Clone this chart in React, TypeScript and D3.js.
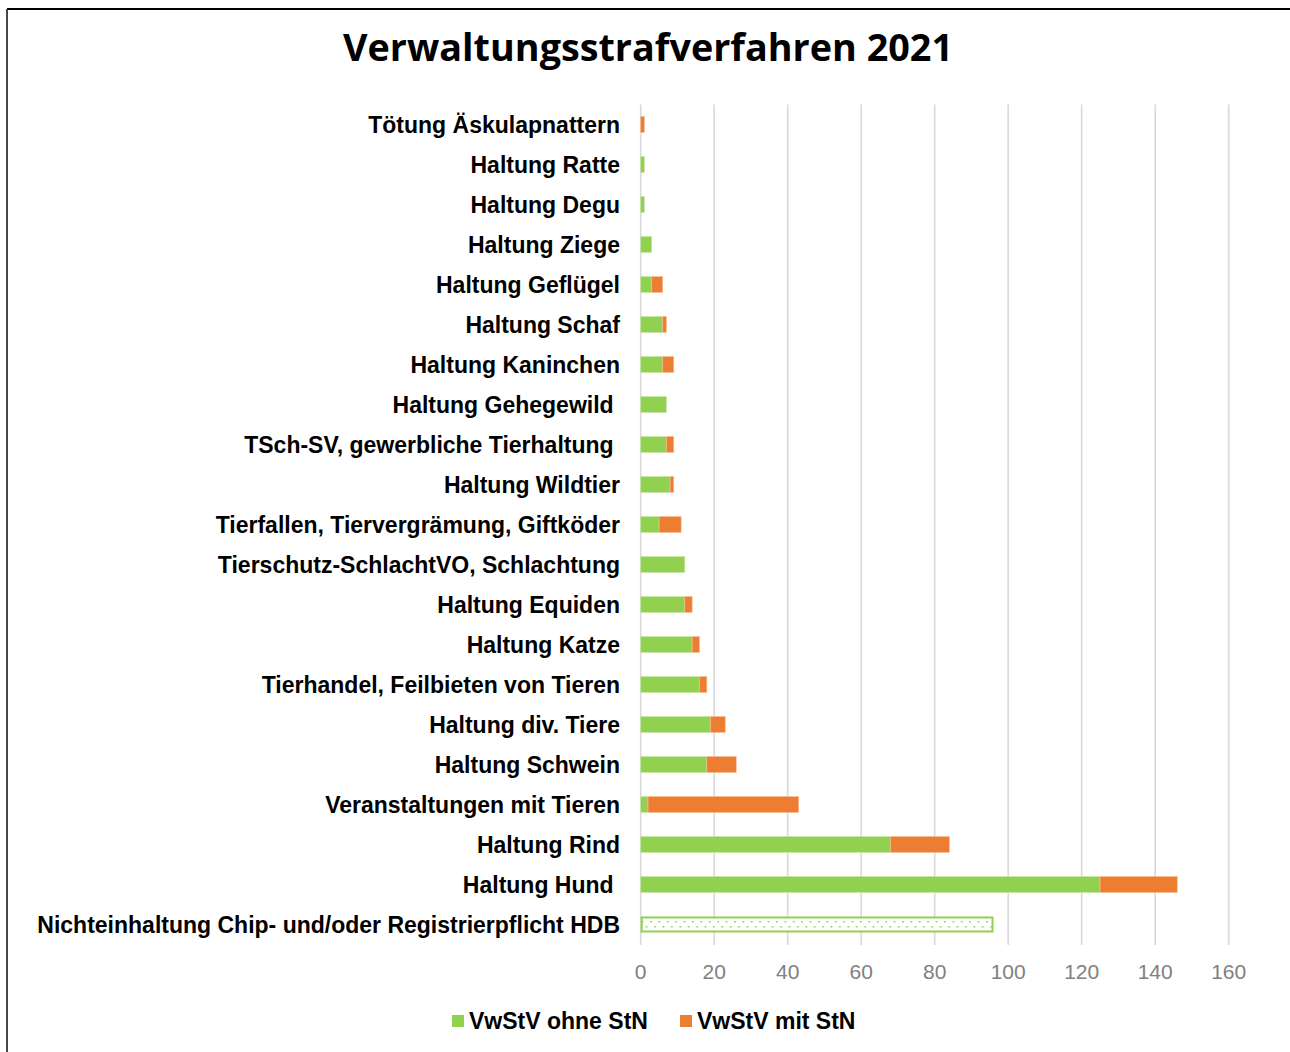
import React from "react";
import * as d3 from "d3";

const categories = [
  "Tötung Äskulapnattern",
  "Haltung Ratte",
  "Haltung Degu",
  "Haltung Ziege",
  "Haltung Geflügel",
  "Haltung Schaf",
  "Haltung Kaninchen",
  "Haltung Gehegewild ",
  "TSch-SV, gewerbliche Tierhaltung ",
  "Haltung Wildtier",
  "Tierfallen, Tiervergrämung, Giftköder",
  "Tierschutz-SchlachtVO, Schlachtung",
  "Haltung Equiden",
  "Haltung Katze",
  "Tierhandel, Feilbieten von Tieren",
  "Haltung div. Tiere",
  "Haltung Schwein",
  "Veranstaltungen mit Tieren",
  "Haltung Rind",
  "Haltung Hund ",
  "Nichteinhaltung Chip- und/oder Registrierpflicht HDB",
];
const ohneStN = [0, 1, 1, 3, 3, 6, 6, 7, 7, 8, 5, 12, 12, 14, 16, 19, 18, 2, 68, 125, 0];
const mitStN = [1, 0, 0, 0, 3, 1, 3, 0, 2, 1, 6, 0, 2, 2, 2, 4, 8, 41, 16, 21, 0];
const chipPflicht = [0, 0, 0, 0, 0, 0, 0, 0, 0, 0, 0, 0, 0, 0, 0, 0, 0, 0, 0, 0, 96];
const xTicks = [0, 20, 40, 60, 80, 100, 120, 140, 160];
const seriesNames = ["VwStV ohne StN", "VwStV mit StN"];
const title = "Verwaltungsstrafverfahren 2021";

const GREEN = "#92D050";
const ORANGE = "#ED7D31";

export default function App() {
  const W = 1290, H = 1052;
  const x = d3.scaleLinear().domain([0, 160]).range([640.7, 1228.7]);
  const y = d3.scaleBand<string>().domain(categories).range([104.5, 944.5]).paddingInner(0.6).paddingOuter(0.3);
  const bw = y.bandwidth();
  const labelFont = "'Liberation Sans', Arial, sans-serif";

  return (
    <div style={{ position: "absolute", left: 0, top: 0 }}>
      <svg width={W} height={H} style={{ display: "block" }}>
        <defs>
          <pattern id="dots" width={8.4} height={10} patternUnits="userSpaceOnUse" x={x(0)} y={0}>
            <rect width={8.4} height={10} fill="#fff" />
            <rect x={1} y={1} width={1.6} height={1.6} fill={GREEN} />
            <rect x={5.2} y={6} width={1.6} height={1.6} fill={GREEN} />
          </pattern>
        </defs>
        <rect x={0} y={0} width={W} height={H} fill="#fff" />
        {/* outer frame */}
        <line x1={7} x2={W} y1={9} y2={9} stroke="#000" strokeWidth={1.8} />
        <line x1={7} x2={7} y1={9} y2={H} stroke="#333" strokeWidth={1.8} />

        <text x={648} y={61} textAnchor="middle" fontFamily="'Open Sans', 'Noto Sans', sans-serif" fontWeight="bold" fontSize={38}
          textLength={610} lengthAdjust="spacingAndGlyphs" fill="#000">{title}</text>

        {/* gridlines */}
        {xTicks.map((t) => (
          <line key={t} x1={x(t)} x2={x(t)} y1={104.5} y2={945} stroke="#D9D9D9" strokeWidth={1.6} />
        ))}

        {/* bars */}
        {categories.map((c, i) => {
          const yy = y(c)!;
          const g = ohneStN[i], o = mitStN[i], p = chipPflicht[i];
          return (
            <g key={c}>
              {g > 0 && <rect x={x(0)} y={yy} width={x(g) - x(0)} height={bw} fill={GREEN} stroke="#C9E8A7" strokeWidth={0.6} />}
              {o > 0 && <rect x={x(g)} y={yy} width={x(g + o) - x(g)} height={bw} fill={ORANGE} stroke="#F6BE98" strokeWidth={0.6} />}
              {p > 0 && <rect x={x(0) + 1} y={yy + 1} width={x(p) - x(0) - 2} height={bw - 2} fill="url(#dots)" stroke={GREEN} strokeWidth={2} />}
            </g>
          );
        })}

        {/* category labels */}
        {categories.map((c) => (
          <text key={c} x={620} y={y(c)! + bw / 2} dy="0.35em" textAnchor="end" fontFamily={labelFont}
            fontWeight="bold" fontSize={23} fill="#000" style={{ whiteSpace: "pre" }}>{c}</text>
        ))}

        {/* tick labels */}
        {xTicks.map((t) => (
          <text key={t} x={x(t)} y={972} dy="0.35em" textAnchor="middle" fontFamily={labelFont} fontSize={21} fill="#808080">{t}</text>
        ))}

        {/* legend */}
        <rect x={452} y={1015} width={12} height={12} fill={GREEN} />
        <text x={469} y={1021} dy="0.35em" fontFamily={labelFont} fontWeight="bold" fontSize={23} fill="#000">{seriesNames[0]}</text>
        <rect x={680} y={1015} width={12} height={12} fill={ORANGE} />
        <text x={697} y={1021} dy="0.35em" fontFamily={labelFont} fontWeight="bold" fontSize={23} fill="#000">{seriesNames[1]}</text>
      </svg>
    </div>
  );
}
